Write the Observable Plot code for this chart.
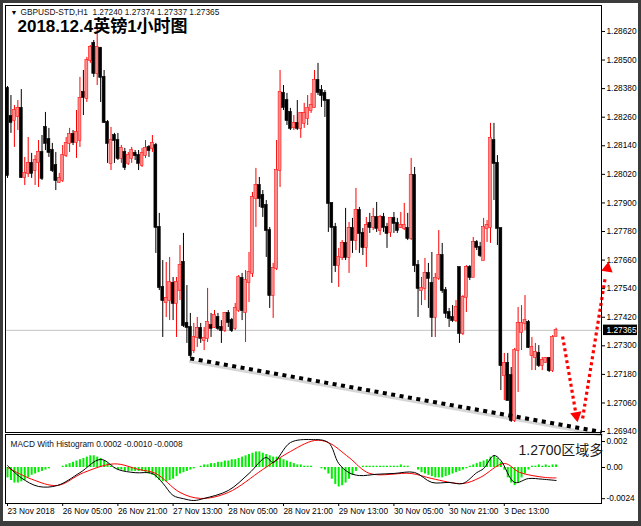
<!DOCTYPE html>
<html>
<head>
<meta charset="utf-8">
<script src="https://cdn.jsdelivr.net/npm/d3@7"></script>
<script src="https://cdn.jsdelivr.net/npm/@observablehq/plot@0.6"></script>
<style>
  body { margin: 0; background: #fff; }
  #chart { position: relative; width: 641px; height: 526px; overflow: hidden; background: #fff; }
  #chart svg { position: absolute; left: 0; }
  #edge { position: absolute; left: 0; top: 0; width: 641px; height: 526px; box-sizing: border-box;
          border: 3px solid #3c3c3c; border-bottom-width: 5px; pointer-events: none; }
</style>
</head>
<body>
<div id="chart"><div id="edge"></div></div>
<script>
// GBPUSD H1 candles, one entry per hourly bar (bar 0 = 23 Nov 13:00)
const barOpen = [
  1.28381,1.28263,1.28246,1.28263,1.28297,1.28007,1.28024,1.28066,1.28036,1.28070,
  1.28112,1.28217,1.28166,1.28120,1.28057,1.27986,1.27994,1.28099,1.28150,1.28187,
  1.28154,1.28162,1.28364,1.28339,1.28498,1.28570,1.28444,1.28549,1.28427,1.28238,
  1.28066,1.28183,1.28162,1.28087,1.28112,1.28066,1.28087,1.28108,1.28099,1.28057,
  1.28099,1.28133,1.28129,1.28141,1.27797,1.27545,1.27482,1.27490,1.27562,1.27478,
  1.27532,1.27650,1.27394,1.27377,1.27280,1.27335,1.27373,1.27322,1.27331,1.27385,
  1.27377,1.27419,1.27377,1.27364,1.27436,1.27406,1.27373,1.27448,1.27583,1.27440,
  1.27566,1.27604,1.27919,1.27973,1.27931,1.27889,1.27784,1.27511,1.27625,1.28036,
  1.28360,1.28330,1.28280,1.28217,1.28234,1.28213,1.28234,1.28255,1.28288,1.28301,
  1.28414,1.28372,1.28360,1.28330,1.27898,1.27797,1.27637,1.27671,1.27730,1.27671,
  1.27793,1.27742,1.27868,1.27772,1.27713,1.27814,1.27797,1.27839,1.27784,1.27839,
  1.27797,1.27776,1.27835,1.27814,1.27797,1.27793,1.27793,1.27751,1.28015,1.27637,
  1.27532,1.27541,1.27604,1.27562,1.27419,1.27583,1.27679,1.27532,1.27440,1.27419,
  1.27406,1.27629,1.27352,1.27503,1.27629,1.27587,1.27734,1.27713,1.27658,1.27793,
  1.27797,1.28162,1.28066,1.27793,1.27175,1.27226,1.27175,1.26986,1.27280,1.27356,
  1.27394,1.27398,1.27259,1.27251,1.27268,1.27217,1.27230,1.27247,1.27196,1.27340
];
const barHigh = [
  1.28389,1.28351,1.28309,1.28330,1.28376,1.28091,1.28175,1.28108,1.28099,1.28162,
  1.28183,1.28280,1.28213,1.28150,1.28112,1.28024,1.28141,1.28175,1.28213,1.28204,
  1.28288,1.28427,1.28456,1.28511,1.28561,1.28582,1.28633,1.28553,1.28456,1.28246,
  1.28217,1.28192,1.28192,1.28141,1.28129,1.28112,1.28133,1.28120,1.28120,1.28129,
  1.28162,1.28141,1.28183,1.28150,1.27856,1.27658,1.27650,1.27671,1.27587,1.27587,
  1.27721,1.27772,1.27553,1.27436,1.27394,1.27419,1.27394,1.27377,1.27541,1.27436,
  1.27448,1.27436,1.27406,1.27440,1.27448,1.27415,1.27478,1.27595,1.27604,1.27616,
  1.27692,1.27944,1.28045,1.28007,1.27952,1.27910,1.27797,1.27646,1.28162,1.28456,
  1.28393,1.28360,1.28297,1.28267,1.28330,1.28280,1.28318,1.28351,1.28360,1.28456,
  1.28486,1.28393,1.28372,1.28330,1.27898,1.27814,1.27709,1.27742,1.27877,1.27818,
  1.27835,1.27961,1.27881,1.27793,1.27839,1.27856,1.27877,1.27902,1.27847,1.27856,
  1.27814,1.27839,1.27860,1.27835,1.27860,1.27898,1.27856,1.28087,1.28049,1.27658,
  1.27587,1.27667,1.27646,1.27692,1.27604,1.27784,1.27730,1.27545,1.27457,1.27469,
  1.27490,1.27629,1.27511,1.27637,1.27637,1.27755,1.27742,1.27734,1.27835,1.27826,
  1.28234,1.28234,1.28099,1.27793,1.27268,1.27268,1.27209,1.27289,1.27461,1.27469,
  1.27511,1.27406,1.27335,1.27310,1.27301,1.27251,1.27251,1.27251,1.27343,1.27374
];
const barLow = [
  1.28003,1.28192,1.28133,1.28204,1.28003,1.27973,1.28007,1.28003,1.27973,1.27965,
  1.27994,1.28120,1.28091,1.28028,1.27952,1.27982,1.27986,1.28091,1.28112,1.28141,
  1.28087,1.28133,1.28267,1.28322,1.28486,1.28427,1.28393,1.28322,1.28234,1.28066,
  1.28036,1.28066,1.28078,1.28066,1.28036,1.28057,1.28066,1.28078,1.28036,1.28049,
  1.28087,1.28091,1.28112,1.27688,1.27532,1.27335,1.27419,1.27406,1.27406,1.27335,
  1.27490,1.27377,1.27310,1.27247,1.27268,1.27293,1.27310,1.27280,1.27314,1.27335,
  1.27373,1.27364,1.27310,1.27356,1.27377,1.27356,1.27364,1.27440,1.27406,1.27314,
  1.27482,1.27587,1.27797,1.27881,1.27839,1.27671,1.27457,1.27415,1.27616,1.27965,
  1.28288,1.28225,1.28204,1.28204,1.28204,1.28171,1.28213,1.28225,1.28276,1.28297,
  1.28351,1.28301,1.28259,1.27776,1.27562,1.27608,1.27545,1.27658,1.27658,1.27604,
  1.27688,1.27700,1.27688,1.27679,1.27629,1.27772,1.27784,1.27776,1.27763,1.27776,
  1.27709,1.27755,1.27772,1.27772,1.27793,1.27784,1.27742,1.27742,1.27608,1.27419,
  1.27469,1.27490,1.27457,1.27335,1.27335,1.27574,1.27520,1.27415,1.27377,1.27398,
  1.27398,1.27310,1.27343,1.27440,1.27574,1.27587,1.27700,1.27671,1.27658,1.27734,
  1.27730,1.27910,1.27721,1.27112,1.27070,1.27070,1.26978,1.26978,1.27104,1.27280,
  1.27364,1.27289,1.27196,1.27196,1.27209,1.27196,1.27226,1.27188,1.27188,1.27337
];
const barClose = [
  1.28015,1.28238,1.28288,1.28297,1.28007,1.28024,1.28066,1.28024,1.28078,1.28112,
  1.28003,1.28150,1.28112,1.28036,1.27994,1.28003,1.28099,1.28150,1.28187,1.28154,
  1.28196,1.28339,1.28343,1.28498,1.28553,1.28444,1.28553,1.28427,1.28238,1.28150,
  1.28162,1.28162,1.28087,1.28129,1.28049,1.28099,1.28120,1.28099,1.28066,1.28108,
  1.28129,1.28120,1.28150,1.27797,1.27545,1.27490,1.27499,1.27566,1.27478,1.27566,
  1.27637,1.27385,1.27377,1.27259,1.27335,1.27373,1.27331,1.27331,1.27398,1.27373,
  1.27427,1.27373,1.27364,1.27436,1.27398,1.27364,1.27457,1.27587,1.27448,1.27574,
  1.27608,1.27923,1.27973,1.27919,1.27881,1.27784,1.27511,1.27625,1.28036,1.28364,
  1.28301,1.28246,1.28213,1.28234,1.28213,1.28276,1.28276,1.28297,1.28309,1.28414,
  1.28364,1.28351,1.28330,1.27898,1.27797,1.27637,1.27671,1.27730,1.27671,1.27793,
  1.27742,1.27868,1.27772,1.27713,1.27805,1.27797,1.27839,1.27793,1.27839,1.27797,
  1.27772,1.27835,1.27814,1.27784,1.27805,1.27805,1.27751,1.28015,1.27637,1.27541,
  1.27541,1.27604,1.27583,1.27419,1.27583,1.27679,1.27532,1.27436,1.27415,1.27406,
  1.27461,1.27352,1.27503,1.27629,1.27587,1.27734,1.27713,1.27679,1.27797,1.27805,
  1.28171,1.28066,1.27793,1.27217,1.27226,1.27070,1.26986,1.27280,1.27394,1.27394,
  1.27406,1.27293,1.27293,1.27272,1.27217,1.27238,1.27247,1.27196,1.27335,1.27365
];

// Price axis ticks
const priceTicks = [1.2862, 1.2850, 1.2838, 1.2826, 1.2814, 1.2802, 1.2790, 1.2778,
                    1.2766, 1.2754, 1.2742, 1.2730, 1.2718, 1.2706, 1.2694];

// Time axis: bar index of each label and its text
const timeTickBars = [0, 16, 32, 48, 64, 80, 96, 112, 128, 144];
const timeTickLabels = ["23 Nov 2018", "26 Nov 05:00", "26 Nov 21:00", "27 Nov 13:00", "28 Nov 05:00",
                        "28 Nov 21:00", "29 Nov 13:00", "30 Nov 05:00", "30 Nov 21:00", "3 Dec 13:00"];

// Support trend line drawn under the lows (bar index, price)
const trendBars = [53, 172.2];
const trendPrices = [1.27247, 1.26938];

// Red projection arrow: down leg, up leg, and arrow heads
const downLegBars = [160.9, 164.6];
const downLegPrices = [1.27339, 1.27028];
const upLegBars = [166.7, 173.3];
const upLegPrices = [1.26995, 1.27591];
const headBars = [164.9, 173.9];
const headPrices = [1.27007, 1.27625];
const headAngles = [170, 9];

// MACD main line and signal line, read at turning points (bar index, value)
const macdBars = [0, 4, 9, 14.5, 21, 27, 32, 37, 42, 45, 48, 51, 54, 57, 64, 70, 75, 77, 82, 88,
                  93, 96, 99, 102, 107, 112, 118, 123, 128, 132, 136, 138, 141, 143, 147, 151, 155, 159];
const macdValues = [0.00015, -0.0008, -0.00146, -0.00138, -0.0004, 0.00062, -0.00015, -0.0004, -0.00046, -0.0012,
                    -0.00215, -0.0024, -0.00254, -0.00238, -0.00177, -0.00046, 0.00077, 0.00038, 0.00192, 0.00215,
                    0.00192, 0.00031, -0.0004, -0.00062, -0.00052, -0.00046, -0.00038, -0.00115, -0.00115, -0.00123,
                    -0.0004, -0.00008, 0.00092, 0.00054, -0.00115, -0.00085, -0.0009, -0.001];
const signalBars = [0, 7, 14.5, 22, 31, 38, 43, 50, 56, 64, 74, 81, 89, 93, 99, 105, 117, 123, 132, 137,
                    144, 148.5, 156, 159];
const signalValues = [0.0, -0.0009, -0.00138, -0.0004, 0.00028, -0.00015, -0.00046, -0.00192, -0.00238, -0.00192,
                      -0.00015, 0.00108, 0.00208, 0.00192, 0.00077, -0.00046, -0.00046, -0.00085, -0.00123, -0.00077,
                      0.00031, -0.00038, -0.00077, -0.0008];

// MACD histogram, one value per bar
const histValues = [
  -0.0008,-0.001,-0.0012,-0.0012,-0.0011,-0.001,
  -0.0008,-0.0006,-0.0005,-0.0004,-0.0003,-0.0002,-0.0001,
  0,0,0,
  0.0001,0.0002,0.0003,0.0004,0.0005,0.0006,0.0007,0.0008,0.0009,0.0009,0.0008,0.0007,0.0005,0.0003,0.0001,
  -0.0001,-0.0002,-0.0002,-0.0003,-0.0003,-0.0003,-0.0003,-0.0003,-0.0003,-0.0004,-0.0005,-0.0006,-0.0008,-0.001,-0.0011,
  -0.0011,-0.001,-0.0009,-0.0007,-0.0005,-0.0004,-0.0003,-0.0002,-0.0001,
  0,0.0001,0.0002,0.0002,0.0003,
  0.0003,0.0004,0.0004,0.0005,0.0005,0.0006,0.0006,0.0007,0.0008,0.0009,0.001,0.0011,0.0012,0.0012,
  0.0011,0.001,0.0009,0.0008,0.0008,0.0007,0.0006,0.0005,0.0004,0.0003,0.0002,0.0002,0.0001,0.0001,0.0001,0,0,-0.0001,-0.0002,
  -0.0005,-0.0009,-0.0013,-0.0015,-0.0014,-0.0012,-0.0009,-0.0006,-0.0003,
  0,0.0001,0.0001,0.0001,0.0001,0.0001,0.0001,0.0001,0.0001,0.0001,0.0001,0.0001,0.0002,0.0001,0.0001,0,0,
  -0.0002,-0.0004,-0.0005,-0.0006,-0.0007,-0.0008,-0.0008,-0.0008,-0.0007,-0.0006,-0.0005,-0.0004,-0.0003,-0.0002,-0.0001,
  0.0001,0.0002,0.0003,0.0004,0.0005,0.0006,0.0008,0.0009,0.0007,0.0004,
  -0.0002,-0.0008,-0.0012,-0.0014,-0.0012,-0.0008,-0.0005,-0.0002,
  0.0001,0.0001,0.0002,0.0001,0.0002,0.0001,0.0002,0.0002
];
const macdTicks = [0.002, 0, -0.0024];
const macdTickLabels = ["0.002", "0.00", "-0.0024"];

const chartTitle = "2018.12.4英镑1小时图";
const symbolLine = "GBPUSD-STD,H1  1.27240 1.27374 1.27337 1.27365";
const macdLine = "MACD With Histogram 0.0002 -0.0010 -0.0008";
const note = "1.2700区域多";

// ---- tables built from the arrays ----
const bars = barOpen.map((o, i) => ({i, open: o, high: barHigh[i], low: barLow[i], close: barClose[i]}));
const isBull = d => d.close >= d.open;
const lastClose = barClose[barClose.length - 1];
const zip = (xs, ys) => xs.map((x, k) => ({x, y: ys[k]}));
const trend = zip(trendBars, trendPrices);
const downLeg = zip(downLegBars, downLegPrices);
const upLeg = zip(upLegBars, upLegPrices);
const heads = headBars.map((x, k) => ({x, y: headPrices[k], a: headAngles[k]}));
const macd = zip(macdBars, macdValues);
const signal = zip(signalBars, signalValues);
const hist = histValues.map((v, i) => ({i, v}));

const xDomain = [-0.58, 172.17];
const font = "'Liberation Sans', Arial, 'Noto Sans CJK SC', sans-serif";

const main = Plot.plot({
  width: 641, height: 434,
  marginLeft: 5, marginRight: 40, marginTop: 5, marginBottom: 2,
  style: {fontFamily: font, fontSize: "8.3px", color: "#000", background: "transparent", overflow: "visible"},
  x: {domain: xDomain, axis: null},
  y: {domain: [1.26936, 1.28729], axis: "right", ticks: priceTicks, tickFormat: d3.format(".5f"),
      tickSize: 3, tickPadding: 2, label: null},
  marks: [
    Plot.ruleY([lastClose], {stroke: "#c4c4c4"}),
    Plot.line(trend, {x: "x", y: "y", stroke: "#9a9a9a", strokeWidth: 3, strokeOpacity: 0.4, dy: 3}),
    Plot.ruleX(bars, {x: "i", y1: "low", y2: "high", stroke: d => isBull(d) ? "#ff0000" : "#000000", strokeWidth: 1}),
    Plot.rect(bars, {
      x1: d => d.i - 0.42, x2: d => d.i + 0.42, y1: "open", y2: "close",
      fill: d => isBull(d) ? "#ff8c8c" : "#000000",
      stroke: d => isBull(d) ? "#ff1010" : "#000000",
      strokeWidth: 0.6, insetTop: -0.5, insetBottom: -0.5
    }),
    // square-dotted lines: butt caps keep the gaps open
    Plot.line(trend, {x: "x", y: "y", stroke: "#000", strokeWidth: 4, strokeDasharray: "4,4.5", strokeLinecap: "butt"}),
    Plot.line(downLeg, {x: "x", y: "y", stroke: "#ff0000", strokeWidth: 3.2, strokeDasharray: "3,3", strokeLinecap: "butt"}),
    Plot.line(upLeg, {x: "x", y: "y", stroke: "#ff0000", strokeWidth: 3.2, strokeDasharray: "3,3", strokeLinecap: "butt"}),
    Plot.dot(heads, {x: "x", y: "y", symbol: "triangle2", r: 5.5, fill: "#ff0000", rotate: "a"}),
    Plot.frame({stroke: "#000"}),
    Plot.rect([lastClose], {x1: 172.75, x2: 182.6, y1: d => d - 0.00022, y2: d => d + 0.00022, fill: "#000"}),
    Plot.text([lastClose], {x: 172.17, y: d => d, text: d3.format(".5f"), dx: 5, textAnchor: "start", fill: "#fff"}),
    Plot.text(["▼"], {frameAnchor: "top-left", dx: 5, dy: 7, text: d => d, fontSize: 7, textAnchor: "start", lineAnchor: "middle"}),
    Plot.text([symbolLine], {frameAnchor: "top-left", dx: 15, dy: 7, text: d => d, textAnchor: "start", lineAnchor: "middle", fill: "#111"}),
    Plot.text([chartTitle], {frameAnchor: "top-left", dx: 12, dy: 21, text: d => d, textAnchor: "start", lineAnchor: "middle",
                             fontSize: 17, fontWeight: "bold", fill: "#000"})
  ]
});
main.style.top = "0px";

const lower = Plot.plot({
  width: 641, height: 93,
  marginLeft: 5, marginRight: 40, marginTop: 1, marginBottom: 23,
  style: {fontFamily: font, fontSize: "8.3px", color: "#000", background: "transparent", overflow: "visible"},
  x: {domain: xDomain},
  y: {domain: [-0.00277, 0.00254], axis: "right", ticks: macdTicks,
      tickFormat: d => macdTickLabels[macdTicks.indexOf(d)], tickSize: 3, tickPadding: 2, label: null},
  marks: [
    Plot.ruleX(hist, {x: "i", y1: 0, y2: "v", stroke: "#00ee00", strokeWidth: 2}),
    Plot.line(signal, {x: "x", y: "y", stroke: "#ff0000", strokeWidth: 1, curve: "catmull-rom"}),
    Plot.line(macd, {x: "x", y: "y", stroke: "#000", strokeWidth: 1, curve: "catmull-rom"}),
    Plot.frame({stroke: "#000"}),
    Plot.axisX(timeTickBars, {tickFormat: d => timeTickLabels[timeTickBars.indexOf(d)], textAnchor: "start",
                              tickSize: 3, tickPadding: 2, label: null}),
    Plot.text([macdLine], {frameAnchor: "top-left", dx: 5, dy: 10, text: d => d, textAnchor: "start", lineAnchor: "middle", fill: "#111"}),
    Plot.text([note], {frameAnchor: "top-left", dx: 513, dy: 16, text: d => d, textAnchor: "start", lineAnchor: "middle",
                       fontSize: 14, fill: "#1a1a1a"})
  ]
});
lower.style.top = "433px";

const host = document.getElementById("chart");
host.insertBefore(lower, host.firstChild);
host.insertBefore(main, host.firstChild);
</script>
</body>
</html>
